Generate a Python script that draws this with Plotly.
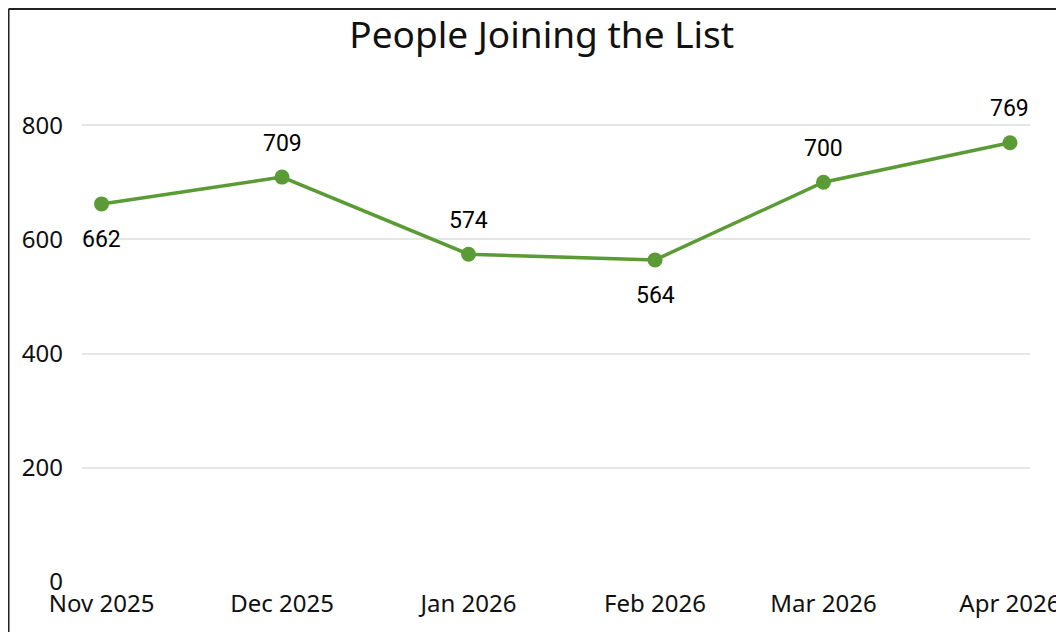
import plotly.graph_objects as go

months = ["2025-11-01", "2025-12-01", "2026-01-01", "2026-02-01", "2026-03-01", "2026-04-01"]
month_labels = ["Nov 2025", "Dec 2025", "Jan 2026", "Feb 2026", "Mar 2026", "Apr 2026"]
people = [662, 709, 574, 564, 700, 769]
label_side = [-1, 1, 1, -1, 1, 1]  # -1 below, 1 above

y_ticks = [0, 200, 400, 600, 800]
GREEN = "#5B9B35"

fig = go.Figure()
fig.add_trace(go.Scatter(
    x=months, y=people, mode="lines+markers",
    line=dict(color=GREEN, width=3.5),
    marker=dict(color=GREEN, size=15),
    hoverinfo="skip", showlegend=False,
))

for m, v, s in zip(months, people, label_side):
    fig.add_annotation(
        x=m, y=v, text=str(v), showarrow=False,
        yshift=34 if s > 0 else -36,
        font=dict(family="Roboto", size=23, color="#000000"),
    )

# chart frame (left and top edges)
fig.add_shape(type="line", xref="paper", yref="paper",
              x0=-0.0775, x1=-0.0775, y0=-0.2, y1=1.115,
              line=dict(color="#222222", width=2))
fig.add_shape(type="line", xref="paper", yref="paper",
              x0=-0.0775, x1=1.2, y0=1.115, y1=1.115,
              line=dict(color="#222222", width=2))

fig.update_layout(
    width=1048, height=624,
    margin=dict(l=74, r=26, t=60, b=50),
    paper_bgcolor="white", plot_bgcolor="white",
    title=dict(text="People Joining the List", x=0.485, xref="paper",
               xanchor="center", y=0.957, yanchor="middle",
               font=dict(family="Noto Sans", size=37, color="#111111")),
    font=dict(family="Noto Sans", size=24, color="#222222"),
    xaxis=dict(
        type="date", range=["2025-10-28 18:00", "2026-04-04 08:00"],
        tickmode="array", tickvals=months, ticktext=month_labels,
        showgrid=False, zeroline=False, showline=False, ticks="",
        ticklabelstandoff=5, ticklabeloverflow="allow", automargin=False,
        tickfont=dict(family="Noto Sans", size=24, color="#111111"),
    ),
    yaxis=dict(
        range=[0, 900], tickmode="array", tickvals=y_ticks,
        showgrid=True, gridcolor="#e6e6e6", gridwidth=1.5,
        zeroline=False, showline=False, ticks="", ticklabelstandoff=18,
        automargin=False,
        tickfont=dict(family="Noto Sans", size=24, color="#111111"),
    ),
)

fig.write_html("out.html")
